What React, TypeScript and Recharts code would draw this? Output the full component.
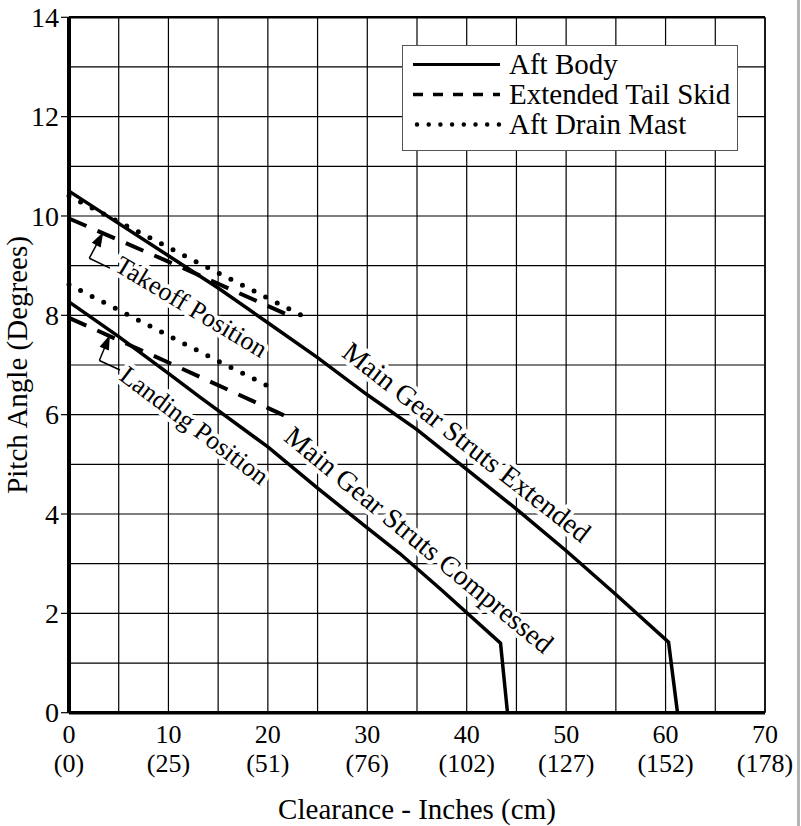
import React from 'react';
import { LineChart, Line, XAxis, YAxis, ReferenceLine, ReferenceDot, Legend } from 'recharts';

// ---- axis ticks / grid ----
const xTicks = [0, 10, 20, 30, 40, 50, 60, 70];
const cmLabels = ['(0)', '(25)', '(51)', '(76)', '(102)', '(127)', '(152)', '(178)'];
const yTicks = [0, 2, 4, 6, 8, 10, 12, 14];
const gridX = [5, 10, 15, 20, 25, 30, 35, 40, 45, 50, 55, 60, 65, 70];
const gridY = [1, 2, 3, 4, 5, 6, 7, 8, 9, 10, 11, 12, 13, 14];

// ---- series: Aft Body (solid) ----
const extBodyX = [0, 10, 15, 20, 25, 30, 35, 40, 45, 50, 55, 60.3, 61.2];
const extBodyY = [10.5, 9.2, 8.55, 7.85, 7.15, 6.4, 5.7, 4.9, 4.1, 3.26, 2.38, 1.42, 0];
const compBodyX = [0, 5, 10, 13.2, 20, 25, 30, 33.3, 37.3, 43.4, 44.1];
const compBodyY = [8.27, 7.57, 6.83, 6.35, 5.35, 4.52, 3.72, 3.2, 2.5, 1.4, 0];

// ---- series: Extended Tail Skid (dashed) ----
const extSkidX = [0, 11.5, 22.1];
const extSkidY = [9.95, 8.95, 8.0];
const compSkidX = [0, 10, 21.8];
const compSkidY = [7.95, 7.05, 5.97];

// ---- series: Aft Drain Mast (dotted) ----
const extMastX = [0, 12.5, 23.4];
const extMastY = [10.4, 9.11, 8.0];
const compMastX = [0, 14.7, 20.8];
const compMastY = [8.62, 7.11, 6.5];

// ---- legend ----
const legendNames = ['Aft Body', 'Extended Tail Skid', 'Aft Drain Mast'];

// ---- annotations ----
const annoText = ['Takeoff Position', 'Landing Position', 'Main Gear Struts Extended', 'Main Gear Struts Compressed'];
const annoX = [12.3, 12.6, 40.0, 35.2];
const annoY = [8.17, 5.78, 5.45, 3.48];
const annoAngle = [31, 37, 38, 39.5];
const annoSize = [26, 26, 28, 28];

const takeoffBracketX = [4.12, 2.04, 3.45];
const takeoffBracketY = [8.95, 9.15, 9.68];
const landingBracketX = [5.13, 3.05, 4.12];
const landingBracketY = [6.9, 7.09, 7.61];

const FONT = '"Liberation Serif", "Times New Roman", Times, serif';

const toPts = (xs: number[], ys: number[]) => xs.map((x, i) => ({ x, y: ys[i] }));

const XTick = (props: any) => {
  const { x, y, payload } = props;
  const idx = xTicks.indexOf(payload.value);
  return (
    <g>
      <text x={x} y={y + 30} textAnchor="middle" fontFamily={FONT} fontSize={26} fill="#000">
        {payload.value}
      </text>
      <text x={x} y={y + 59} textAnchor="middle" fontFamily={FONT} fontSize={26} fill="#000">
        {cmLabels[idx]}
      </text>
    </g>
  );
};

const YTick = (props: any) => {
  const { x, y, payload } = props;
  return (
    <text x={x} y={y} dy="0.34em" textAnchor="end" fontFamily={FONT} fontSize={28} fill="#000">
      {payload.value}
    </text>
  );
};

const makeAnno = (i: number) => (props: any) => {
  const { cx, cy } = props;
  if (cx == null || cy == null) return <g />;
  return (
    <text
      x={cx}
      y={cy}
      transform={`rotate(${annoAngle[i]}, ${cx}, ${cy})`}
      textAnchor="middle"
      dominantBaseline="central"
      fontFamily={FONT}
      fontSize={annoSize[i]}
      fill="#000"
      stroke="#fff"
      strokeWidth={8}
      strokeLinejoin="round"
      paintOrder="stroke"
    >
      {annoText[i]}
    </text>
  );
};

const ArrowShape = (props: any) => {
  const { x1, y1, x2, y2 } = props;
  const dx = x2 - x1;
  const dy = y2 - y1;
  const len = Math.hypot(dx, dy) || 1;
  const ux = dx / len;
  const uy = dy / len;
  const hl = 15;
  const hw = 5;
  const bx = x2 - ux * hl;
  const by = y2 - uy * hl;
  const pts = `${x2},${y2} ${bx - uy * hw},${by + ux * hw} ${bx + uy * hw},${by - ux * hw}`;
  return (
    <g>
      <line x1={x1} y1={y1} x2={bx + ux * 2} y2={by + uy * 2} stroke="#000" strokeWidth={1.5} />
      <polygon points={pts} fill="#000" />
    </g>
  );
};

const LegendBox = () => (
  <div
    style={{
      width: 336,
      height: 106,
      boxSizing: 'border-box',
      border: '1.5px solid #555',
      background: '#fff',
    }}
  >
    <svg width={333} height={103} style={{ display: 'block' }}>
      {legendNames.map((n, i) => {
        const cy = 18.5 + 30 * i;
        let lineEl;
        if (i === 0) {
          lineEl = <line x1={10} x2={97} y1={cy} y2={cy} stroke="#000" strokeWidth={3} />;
        } else if (i === 1) {
          lineEl = (
            <line x1={10} x2={97} y1={cy} y2={cy} stroke="#000" strokeWidth={3.5} strokeDasharray="10 10" />
          );
        } else {
          lineEl = (
            <line
              x1={14}
              x2={97}
              y1={cy}
              y2={cy}
              stroke="#000"
              strokeWidth={4.5}
              strokeLinecap="round"
              strokeDasharray="0 11.7"
            />
          );
        }
        return (
          <g key={n}>
            {lineEl}
            <text x={106} y={cy + 9.5} fontFamily={FONT} fontSize={29} fill="#000">
              {n}
            </text>
          </g>
        );
      })}
    </svg>
  </div>
);

const solidStyle = { stroke: '#000', strokeWidth: 3.5 };
const dashStyle = { stroke: '#000', strokeWidth: 4, strokeDasharray: '19 12' };
const dotStyle = { stroke: '#000', strokeWidth: 5, strokeDasharray: '0 13', strokeLinecap: 'round' as const };

export default function App() {
  const extBody = toPts(extBodyX, extBodyY);
  const compBody = toPts(compBodyX, compBodyY);
  const extSkid = toPts(extSkidX, extSkidY);
  const compSkid = toPts(compSkidX, compSkidY);
  const extMast = toPts(extMastX, extMastY);
  const compMast = toPts(compMastX, compMastY);
  const tb = toPts(takeoffBracketX, takeoffBracketY);
  const lb = toPts(landingBracketX, landingBracketY);

  return (
    <div style={{ position: 'absolute', left: 0, top: 0, width: 801, height: 826, background: '#fff' }}>
      <LineChart width={797} height={826} margin={{ top: 17.3, right: 32, bottom: 0, left: 0 }}>
        <XAxis
          dataKey="x"
          type="number"
          domain={[0, 70]}
          ticks={xTicks}
          interval={0}
          height={113.3}
          tickLine={false}
          tickSize={0}
          tickMargin={0}
          axisLine={{ stroke: '#000', strokeWidth: 3.5 }}
          tick={<XTick />}
          label={{
            content: (p: any) => {
              const vb = p.viewBox;
              return (
                <text
                  x={vb.x + vb.width / 2}
                  y={vb.y + 106}
                  textAnchor="middle"
                  fontFamily={FONT}
                  fontSize={29}
                  fill="#000"
                >
                  Clearance - Inches (cm)
                </text>
              );
            },
          }}
        />
        <YAxis
          type="number"
          domain={[0, 14]}
          ticks={yTicks}
          interval={0}
          width={69}
          tickSize={8}
          tickMargin={2}
          tickLine={{ stroke: '#000', strokeWidth: 1.2 }}
          axisLine={{ stroke: '#000', strokeWidth: 4 }}
          tick={<YTick />}
          label={{
            content: (p: any) => {
              const vb = p.viewBox;
              const cx = vb.x + 26.7;
              const cy = vb.y + vb.height / 2;
              return (
                <text
                  x={cx}
                  y={cy}
                  transform={`rotate(-90, ${cx}, ${cy})`}
                  textAnchor="middle"
                  fontFamily={FONT}
                  fontSize={29}
                  fill="#000"
                >
                  Pitch Angle (Degrees)
                </text>
              );
            },
          }}
        />

        {gridX.map((v) => (
          <ReferenceLine key={`gx${v}`} x={v} stroke="#000" strokeWidth={v === 70 ? 1.8 : 1.2} />
        ))}
        {gridY.map((v) => (
          <ReferenceLine key={`gy${v}`} y={v} stroke="#000" strokeWidth={v === 14 ? 2.6 : 1.2} />
        ))}

        {annoText.map((t, i) => (
          <ReferenceDot key={t} x={annoX[i]} y={annoY[i]} r={0} shape={makeAnno(i)} />
        ))}

        <ReferenceLine segment={[tb[0], tb[1]]} stroke="#000" strokeWidth={1.5} />
        <ReferenceLine segment={[tb[1], tb[2]]} shape={<ArrowShape />} />
        <ReferenceLine segment={[lb[0], lb[1]]} stroke="#000" strokeWidth={1.5} />
        <ReferenceLine segment={[lb[1], lb[2]]} shape={<ArrowShape />} />

        <Line data={extBody} dataKey="y" name="Aft Body" type="linear" dot={false} activeDot={false} isAnimationActive={false} {...solidStyle} />
        <Line data={compBody} dataKey="y" name="Aft Body (compressed)" type="linear" dot={false} activeDot={false} isAnimationActive={false} {...solidStyle} />
        <Line data={extSkid} dataKey="y" name="Extended Tail Skid" type="linear" dot={false} activeDot={false} isAnimationActive={false} {...dashStyle} />
        <Line data={compSkid} dataKey="y" name="Extended Tail Skid (landing)" type="linear" dot={false} activeDot={false} isAnimationActive={false} {...dashStyle} />
        <Line data={extMast} dataKey="y" name="Aft Drain Mast" type="linear" dot={false} activeDot={false} isAnimationActive={false} {...dotStyle} />
        <Line data={compMast} dataKey="y" name="Aft Drain Mast (landing)" type="linear" dot={false} activeDot={false} isAnimationActive={false} {...dotStyle} />

        <Legend
          layout="horizontal"
          verticalAlign="middle"
          align="center"
          content={<LegendBox />}
          wrapperStyle={{ position: 'absolute', left: 402, top: 45, width: 336, height: 106 }}
        />
      </LineChart>
      <div style={{ position: 'absolute', left: 797, top: 0, width: 3, height: 826, background: '#b4b4b4' }} />
    </div>
  );
}
